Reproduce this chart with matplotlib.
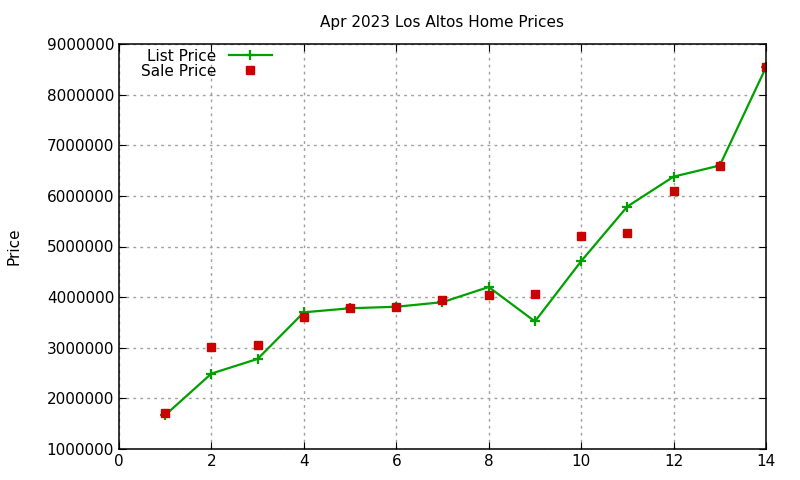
import matplotlib.pyplot as plt
from matplotlib.ticker import MultipleLocator

months = [1, 2, 3, 4, 5, 6, 7, 8, 9, 10, 11, 12, 13, 14]
list_price = [1670000, 2490000, 2780000, 3700000, 3780000, 3810000, 3900000,
              4200000, 3520000, 4710000, 5790000, 6380000, 6600000, 8540000]
sale_price = [1710000, 3010000, 3050000, 3600000, 3790000, 3810000, 3950000,
              4050000, 4070000, 5210000, 5270000, 6090000, 6600000, 8540000]

fig = plt.figure(figsize=(8, 4.8), dpi=100)
ax = fig.add_axes([119/800, 1 - 449/480, (766-119)/800, (449-44)/480])

ax.plot(months, list_price, color='#00a000', lw=1.6, marker='+', ms=7, mew=1.6,
        label='List Price')
ax.plot(months, sale_price, ls='none', marker='s', color='#cc0000', ms=5.5,
        label='Sale Price')

ax.set_xlim(0, 14)
ax.set_ylim(1000000, 9000000)
ax.xaxis.set_major_locator(MultipleLocator(2))
ax.yaxis.set_major_locator(MultipleLocator(1000000))
ax.ticklabel_format(style='plain', axis='y', useOffset=False)
ax.tick_params(direction='in', labelsize=11, top=True, right=True, length=5)
ax.grid(True, color='#a0a0a0', ls=(0, (2, 3)), lw=1)
for s in ax.spines.values():
    s.set_linewidth(1.1)

ax.set_title('Apr 2023 Los Altos Home Prices', fontsize=11, pad=12)
ax.set_ylabel('Price', fontsize=11, labelpad=18)

ax.legend(loc='upper left', bbox_to_anchor=(0.018, 1.015), markerfirst=False,
          frameon=False, fontsize=11, handlelength=2.8, borderaxespad=0.3,
          labelspacing=0.0, handletextpad=0.8)

fig.savefig('out.png')
